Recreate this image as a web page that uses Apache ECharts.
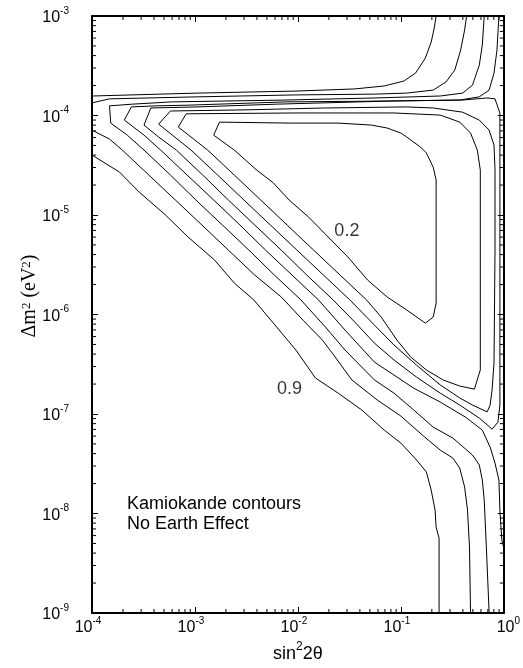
<!DOCTYPE html>
<html>
<head>
<meta charset="utf-8">
<script src="https://cdn.jsdelivr.net/npm/echarts@6/dist/echarts.min.js"></script>
<style>
  html, body { margin: 0; padding: 0; background: #fff; }
  #chart { width: 523px; height: 668px; }
</style>
</head>
<body>
<div id="chart"></div>
<script>
// Contour levels of the suppression (0.2 innermost .. 0.9 outermost)
const levels = [0.2, 0.3, 0.4, 0.5, 0.6, 0.7, 0.8, 0.9];

// Each contour as [sin^2 2theta, delta m^2 (eV^2)] points
const contour02 = [[1.73e-3,8.58e-5],[8.21e-3,8.39e-5],[2.46e-2,8.39e-5],[5.18e-2,8.01e-5],[7.36e-2,7.48e-5],[0.1,6.66e-5],[0.114,6.07e-5],[0.155,4.82e-5],[0.177,4.20e-5],[0.206,3.03e-5],[0.220,2.25e-5],[0.220,1.30e-6],[0.206,9.42e-7],[0.173,8.19e-7],[0.114,1.11e-6],[7.36e-2,1.50e-6],[4.75e-2,2.22e-6],[3.06e-2,3.78e-6],[1.97e-2,6.00e-6],[1.27e-2,9.53e-6],[8.21e-3,1.415e-5],[5.78e-3,2.10e-5],[3.98e-3,2.83e-5],[2.41e-3,4.49e-5],[1.52e-3,6.35e-5],[1.73e-3,8.58e-5]];

const contour03 = [[8.21e-4,1.04e-4],[9.57e-3,1.06e-4],[8.58e-2,1.06e-4],[0.241,1.01e-4],[0.373,8.58e-5],[0.475,6.66e-5],[0.553,4.49e-5],[0.591,2.83e-5],[0.591,2.77e-7],[0.518,1.78e-7],[0.373,1.91e-7],[0.257,2.20e-7],[0.177,2.77e-7],[0.1245,3.74e-7],[9.16e-2,5.53e-7],[6.45e-2,9.42e-7],[4.64e-2,1.40e-6],[2.57e-2,2.49e-6],[1.42e-2,4.44e-6],[7.86e-3,7.92e-6],[4.35e-3,1.415e-5],[2.41e-3,2.52e-5],[1.33e-3,4.49e-5],[6.89e-4,7.65e-5],[8.21e-4,1.04e-4]];

const contour04 = [[5.78e-4,1.11e-4],[3.20e-3,1.14e-4],[1.85e-2,1.19e-4],[0.114,1.22e-4],[0.206,1.19e-4],[0.398,1.08e-4],[0.578,8.99e-5],[0.72,7.13e-5],[0.803,5.04e-5],[0.821,2.83e-5],[0.821,4.44e-6],[0.803,3.25e-7],[0.769,1.74e-7],[0.736,1.23e-7],[0.689,1.05e-7],[0.496,1.23e-7],[0.373,1.45e-7],[0.241,1.96e-7],[0.142,3.10e-7],[8.58e-2,4.93e-7],[5.53e-2,7.83e-7],[3.20e-2,1.40e-6],[1.77e-2,2.49e-6],[9.78e-3,4.44e-6],[5.41e-3,7.92e-6],[2.99e-3,1.415e-5],[1.66e-3,2.52e-5],[9.16e-4,4.49e-5],[4.44e-4,8.19e-5],[5.78e-4,1.11e-4]];

const contour05 = [[3.73e-4,1.19e-4],[1.07e-3,1.22e-4],[6.18e-3,1.30e-4],[8.58e-2,1.40e-4],[0.398,1.43e-4],[0.689,1.50e-4],[0.821,1.47e-4],[0.916,1.06e-4],[0.916,1.415e-5],[0.916,1.40e-6],[0.916,1.23e-7],[0.877,8.29e-8],[0.769,7.05e-8],[0.578,9.09e-8],[0.373,1.23e-7],[0.241,1.62e-7],[0.142,2.35e-7],[8.58e-2,3.49e-7],[5.53e-2,5.16e-7],[3.57e-2,8.39e-7],[2.20e-2,1.40e-6],[1.22e-2,2.49e-6],[6.89e-3,4.44e-6],[3.81e-3,7.92e-6],[2.11e-3,1.415e-5],[1.19e-3,2.52e-5],[6.60e-4,4.49e-5],[4.44e-4,6.07e-5],[3.20e-4,8.01e-5],[3.73e-4,1.19e-4]];

const contour06 = [[0.896,1e-3],[0.858,4.55e-4],[0.803,2.67e-4],[0.72,1.80e-4],[0.578,1.54e-4],[0.373,1.43e-4],[8.58e-2,1.40e-4],[7.69e-3,1.37e-4],[8.58e-4,1.27e-4],[4.16e-4,1.25e-4],[2.41e-4,1.22e-4],[2.06e-4,8.99e-5],[3.20e-4,6.35e-5],[4.64e-4,4.49e-5],[8.39e-4,2.52e-5],[1.52e-3,1.415e-5],[2.74e-3,7.92e-6],[4.85e-3,4.44e-6],[8.77e-3,2.49e-6],[1.585e-2,1.40e-6],[2.87e-2,6.97e-7],[5.53e-2,3.33e-7],[8.58e-2,2.46e-7],[0.133,1.82e-7],[0.241,1.32e-7],[0.425,9.30e-8],[0.618,6.89e-8],[0.736,4.65e-8],[0.821,3.21e-8],[0.896,2.17e-8],[0.916,1.08e-8],[0.957,5.41e-9],[1.0,4.49e-9]];

const contour07 = [[0.645,1e-3],[0.618,5.10e-4],[0.578,3.21e-4],[0.496,2.02e-4],[0.398,1.68e-4],[0.241,1.57e-4],[5.53e-2,1.50e-4],[7.69e-3,1.43e-4],[5.91e-4,1.37e-4],[2.46e-4,1.30e-4],[1.48e-4,1.25e-4],[1.52e-4,8.39e-5],[2.20e-4,6.35e-5],[3.20e-4,4.49e-5],[5.78e-4,2.52e-5],[1.02e-3,1.415e-5],[1.85e-3,7.92e-6],[3.34e-3,4.44e-6],[5.91e-3,2.49e-6],[1.07e-2,1.40e-6],[1.85e-2,7.48e-7],[2.87e-2,4.39e-7],[5.53e-2,2.20e-7],[8.58e-2,1.62e-7],[0.133,1.10e-7],[0.206,7.38e-8],[0.320,5.73e-8],[0.496,3.87e-8],[0.578,3.07e-8],[0.618,2.17e-8],[0.645,1.37e-8],[0.674,5.04e-9],[0.72,1e-9]];

const contour08Upper = [[1e-4,1.34e-4],[1.48e-4,1.47e-4],[1.07e-3,1.54e-4],[9.57e-3,1.61e-4],[5.53e-2,1.64e-4],[0.114,1.68e-4],[0.206,1.80e-4],[0.274,2.17e-4],[0.334,2.86e-4],[0.381,4.55e-4],[0.416,7.22e-4],[0.435,1e-3]];
const contour08Lower = [[1e-4,7.13e-5],[1.48e-4,5.79e-5],[1.97e-4,4.49e-5],[3.57e-4,2.52e-5],[6.45e-4,1.415e-5],[1.17e-3,7.92e-6],[2.11e-3,4.44e-6],[3.81e-3,2.49e-6],[6.89e-3,1.50e-6],[1.12e-2,8.78e-7],[1.73e-2,5.53e-7],[2.30e-2,3.74e-7],[3.34e-2,2.20e-7],[5.91e-2,1.38e-7],[0.1,9.53e-8],[0.166,6.00e-8],[0.241,4.34e-8],[0.320,3.61e-8],[0.373,2.86e-8],[0.416,1.85e-8],[0.444,1.08e-8],[0.464,4.60e-9],[0.475,1e-9]];

const contour09Upper = [[1e-4,1.57e-4],[1.07e-3,1.68e-4],[9.57e-3,1.76e-4],[3.57e-2,1.85e-4],[6.89e-2,1.98e-4],[0.107,2.22e-4],[0.139,2.67e-4],[0.173,3.78e-4],[0.197,5.47e-4],[0.211,7.56e-4],[0.220,1e-3]];
const contour09Lower = [[1e-4,4.0e-5],[1.85e-4,2.70e-5],[2.87e-4,1.70e-5],[5.18e-4,1.0e-5],[8.58e-4,6.0e-6],[1.55e-3,3.53e-6],[2.41e-3,2.07e-6],[3.73e-3,1.40e-6],[5.78e-3,8.19e-7],[9.57e-3,4.39e-7],[1.48e-2,2.30e-7],[2.46e-2,1.62e-7],[4.16e-2,1.10e-7],[6.89e-2,6.89e-8],[0.1,5.10e-8],[0.142,3.45e-8],[0.177,2.61e-8],[0.197,1.72e-8],[0.215,1.08e-8],[0.220,7.30e-9],[0.235,5.66e-9],[0.235,1e-9]];

// Axis ranges (decades)
const xRange = [1e-4, 1];
const yRange = [1e-9, 1e-3];

// Which polyline belongs to which level
const contourSegments = [
  { level: 0.2, points: contour02 },
  { level: 0.3, points: contour03 },
  { level: 0.4, points: contour04 },
  { level: 0.5, points: contour05 },
  { level: 0.6, points: contour06 },
  { level: 0.7, points: contour07 },
  { level: 0.8, points: contour08Upper },
  { level: 0.8, points: contour08Lower },
  { level: 0.9, points: contour09Upper },
  { level: 0.9, points: contour09Lower }
];

// Levels that carry an in-plot label, and where the label sits
const labelledLevels = [0.2, 0.9];
const labelAnchors = { 0.2: [2.99e-2, 6.89e-6], 0.9: [8.3e-3, 1.78e-7] };

const SANS = 'Liberation Sans, Arial, Helvetica, sans-serif';
const SERIF = 'Liberation Serif, Times New Roman, serif';

// Log minor ticks (2..9 x 10^n) on all four frame sides
const minorTicks = [];
for (let n = Math.round(Math.log10(xRange[0])); n < Math.round(Math.log10(xRange[1])); n++) {
  for (let k = 2; k <= 9; k++) {
    const v = k * Math.pow(10, n);
    minorTicks.push([v, yRange[0], 0], [v, yRange[1], 1]);
  }
}
for (let n = Math.round(Math.log10(yRange[0])); n < Math.round(Math.log10(yRange[1])); n++) {
  for (let k = 2; k <= 9; k++) {
    const v = k * Math.pow(10, n);
    minorTicks.push([xRange[0], v, 2], [xRange[1], v, 3]);
  }
}

const labelRich = {
  b: { fontSize: 16, lineHeight: 24, fontFamily: SANS, color: '#000' },
  s: { fontSize: 10, lineHeight: 10, verticalAlign: 'top', fontFamily: SANS, color: '#000' },
  p: { width: 8, fontSize: 10 },
  q: { width: 9, fontSize: 10 }
};

const frameLine = { show: true, lineStyle: { color: '#000', width: 2 } };
const majorTick = { show: true, inside: true, length: 6, lineStyle: { color: '#000', width: 1 } };

const chart = echarts.init(document.getElementById('chart'), null, { renderer: 'canvas' });

const series = contourSegments.map(seg => ({
  type: 'line',
  name: String(seg.level),
  data: seg.points,
  showSymbol: false,
  symbol: 'none',
  smooth: false,
  lineStyle: { color: '#000', width: 1 },
  silent: true,
  z: 3
}));

series.push({
  type: 'scatter',
  data: labelledLevels.map(l => ({ value: labelAnchors[l], name: String(l) })),
  symbolSize: 1,
  itemStyle: { color: 'rgba(0,0,0,0)' },
  label: {
    show: true, position: 'inside', formatter: p => p.name,
    fontSize: 18, fontFamily: SANS, color: '#000'
  },
  silent: true,
  z: 4
});

series.push({
  type: 'custom',
  data: minorTicks,
  encode: { x: 0, y: 1 },
  silent: true,
  z: 5,
  renderItem: (params, api) => {
    const p = api.coord([api.value(0), api.value(1)]);
    const side = api.value(2);
    const L = 4;
    let x2 = p[0], y2 = p[1];
    if (side === 0) y2 -= L;
    else if (side === 1) y2 += L;
    else if (side === 2) x2 += L;
    else x2 -= L;
    return { type: 'line', shape: { x1: p[0], y1: p[1], x2: x2, y2: y2 }, style: { stroke: '#000', lineWidth: 1 } };
  }
});

const option = {
  animation: false,
  backgroundColor: '#fff',
  grid: { left: 92, right: 11, top: 16, bottom: 55, containLabel: false },
  xAxis: [
    {
      type: 'log', logBase: 10, min: xRange[0], max: xRange[1], position: 'bottom',
      axisLine: frameLine, axisTick: majorTick, splitLine: { show: false },
      axisLabel: {
        margin: 3, fontFamily: SANS, color: '#000', rich: labelRich,
        formatter: v => {
          const e = Math.round(Math.log10(v));
          return e === 0 ? '{q| }{b|10}{s|' + e + '}' : '{b|10}{s|' + e + '}{p| }';
        }
      },
      name: '{b|sin}{s|2}{b|2θ}', nameLocation: 'middle', nameGap: 25,
      nameTextStyle: {
        rich: {
          b: { fontSize: 18, lineHeight: 26, fontFamily: SANS, color: '#000' },
          s: { fontSize: 12, lineHeight: 12, verticalAlign: 'top', fontFamily: SANS, color: '#000' }
        }
      }
    },
    {
      type: 'log', logBase: 10, min: xRange[0], max: xRange[1], position: 'top',
      axisLine: frameLine, axisTick: majorTick, splitLine: { show: false }, axisLabel: { show: false }
    }
  ],
  yAxis: [
    {
      type: 'log', logBase: 10, min: yRange[0], max: yRange[1], position: 'left',
      axisLine: frameLine, axisTick: majorTick, splitLine: { show: false },
      axisLabel: {
        margin: 23, padding: [4, 0, 0, 0], fontFamily: SANS, color: '#000', rich: labelRich,
        formatter: v => '{b|10}{s|' + Math.round(Math.log10(v)) + '}'
      }
    },
    {
      type: 'log', logBase: 10, min: yRange[0], max: yRange[1], position: 'right',
      axisLine: frameLine, axisTick: majorTick, splitLine: { show: false }, axisLabel: { show: false }
    }
  ],
  graphic: [
    {
      type: 'text', x: 30, y: 296, rotation: Math.PI / 2,
      style: {
        text: 'Δm{s|2} (eV{s|2})',
        fontSize: 20, fontFamily: SERIF, fill: '#000',
        align: 'center', verticalAlign: 'middle',
        rich: { s: { fontSize: 13, lineHeight: 13, verticalAlign: 'top', fontFamily: SERIF, fill: '#000' } }
      }
    },
    {
      type: 'text', x: 127, y: 494,
      style: {
        text: 'Kamiokande contours\nNo Earth Effect',
        fontSize: 18, lineHeight: 20, fontFamily: SANS, fill: '#000',
        align: 'left', verticalAlign: 'top'
      }
    }
  ],
  series: series
};

chart.setOption(option);
</script>
</body>
</html>
